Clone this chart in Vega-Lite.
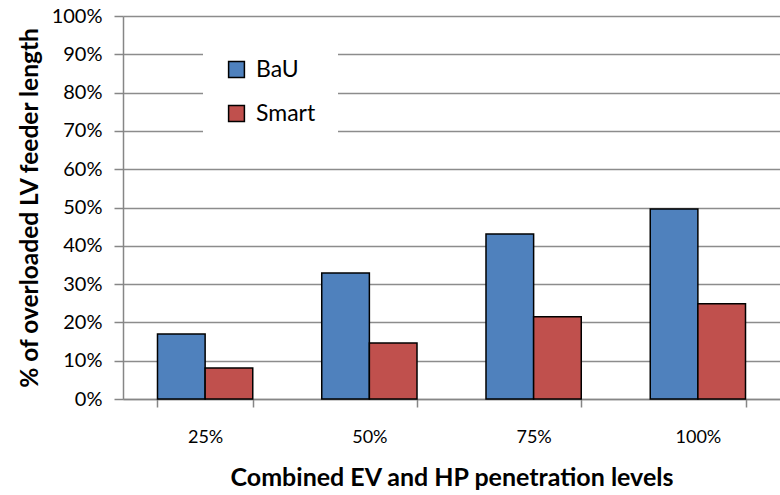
{
  "$schema": "https://vega.github.io/schema/vega-lite/v6.json",
  "autosize": {"type": "none"},
  "padding": {"left": 123, "top": 16, "right": 0, "bottom": 96},
  "width": 657,
  "height": 383,
  "background": "white",
  "data": {
    "values": [
      {"level": "25%", "series": "BaU", "value": 0.17},
      {"level": "25%", "series": "Smart", "value": 0.081},
      {"level": "50%", "series": "BaU", "value": 0.329},
      {"level": "50%", "series": "Smart", "value": 0.146},
      {"level": "75%", "series": "BaU", "value": 0.431},
      {"level": "75%", "series": "Smart", "value": 0.215},
      {"level": "100%", "series": "BaU", "value": 0.496},
      {"level": "100%", "series": "Smart", "value": 0.249}
    ]
  },
  "config": {
    "view": {"stroke": null},
    "font": "Lato"
  },
  "mark": {"type": "bar", "stroke": "black", "strokeWidth": 1.5},
  "encoding": {
    "x": {
      "field": "level",
      "type": "nominal",
      "sort": ["25%", "50%", "75%", "100%"],
      "scale": {"paddingInner": 0.42, "paddingOuter": 0.21},
      "axis": {
        "title": "Combined EV and HP penetration levels",
        "titleFont": "Lato",
        "titleFontSize": 25,
        "titleFontWeight": "bold",
        "titleColor": "black",
        "titlePadding": 19,
        "labelAngle": 0,
        "labelFontSize": 18,
        "labelColor": "black",
        "labelPadding": 21,
        "labelOverlap": false,
        "tickBand": "extent",
        "tickSize": 8,
        "tickColor": "#868686",
        "tickWidth": 1.5,
        "domainColor": "#868686",
        "domainWidth": 1.5,
        "grid": false
      }
    },
    "xOffset": {"field": "series", "type": "nominal", "sort": ["BaU", "Smart"]},
    "y": {
      "field": "value",
      "type": "quantitative",
      "scale": {"domain": [0, 1]},
      "axis": {
        "title": "% of overloaded LV feeder length",
        "titleFont": "Lato",
        "titleFontSize": 24.5,
        "titleFontWeight": "bold",
        "titleColor": "black",
        "titlePadding": 9,
        "format": ".0%",
        "values": [0, 0.1, 0.2, 0.3, 0.4, 0.5, 0.6, 0.7, 0.8, 0.9, 1],
        "labelOverlap": false,
        "labelFontSize": 20,
        "labelColor": "black",
        "labelPadding": 12,
        "tickSize": 9,
        "tickColor": "#868686",
        "tickWidth": 1.5,
        "domainColor": "#868686",
        "domainWidth": 1.5,
        "grid": true,
        "gridColor": "#8c8c8c",
        "gridWidth": 1.5
      }
    },
    "color": {
      "field": "series",
      "type": "nominal",
      "scale": {"domain": ["BaU", "Smart"], "range": ["#4F81BD", "#C0504D"]},
      "legend": {
        "title": null,
        "orient": "none",
        "legendX": 80,
        "legendY": 20,
        "padding": 22,
        "fillColor": "white",
        "symbolType": "square",
        "symbolSize": 250,
        "symbolStrokeColor": "black",
        "symbolStrokeWidth": 1.5,
        "symbolOpacity": 1,
        "labelFontSize": 23,
        "labelColor": "black",
        "labelOffset": 8,
        "rowPadding": 20
      }
    }
  }
}
